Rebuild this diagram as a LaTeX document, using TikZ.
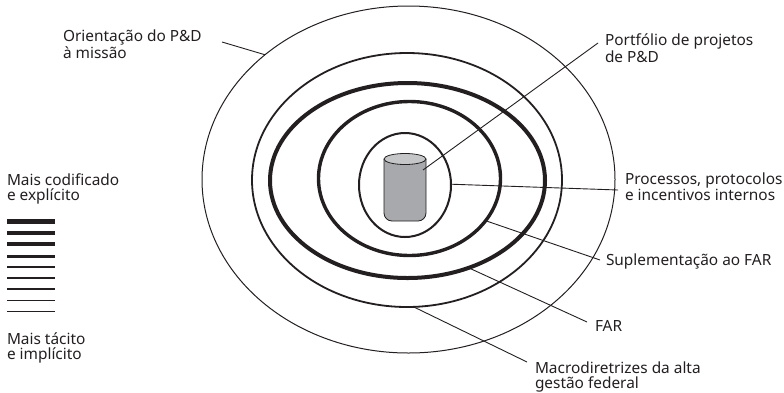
\documentclass[tikz,border=0pt]{standalone}
\usepackage{fontspec}
\setmainfont{Noto Sans}
\usetikzlibrary{shapes.geometric}
\definecolor{cylbody}{HTML}{A7A9AC}
\definecolor{cyltop}{HTML}{C4C6C8}
\definecolor{ink}{HTML}{231F20}
\begin{document}
\begin{tikzpicture}[x=1pt,y=-1pt,
  ring/.style={draw=ink,ellipse,inner sep=0pt,outer sep=0pt,fill=none},
  lbl/.style={inner sep=0pt,outer sep=0pt,align=left,anchor=base west,text=ink,font=\fontsize{15.4}{14.8}\selectfont},
  leader/.style={draw=ink,line width=0.9pt},
  leg/.style={draw=ink}]
\useasboundingbox (0,0) rectangle (784,392);
% rings
\node[ring,line width=1pt,minimum width=413pt,minimum height=347pt] (r1) at (408.5,179.5) {};
\node[ring,line width=1.8pt,minimum width=310pt,minimum height=254pt] (r2) at (407,180) {};
\node[ring,line width=4pt,minimum width=275pt,minimum height=195pt] (r3) at (407.5,180.5) {};
\node[ring,line width=3.4pt,minimum width=182pt,minimum height=154pt] (r4) at (409.5,178.5) {};
\node[ring,line width=2pt,minimum width=92pt,minimum height=104pt] (r5) at (405,185) {};
% cylinder
\filldraw[fill=cylbody,draw=ink,line width=0.8pt,rounded corners=8pt] (384,159) -- (384,221) -- (426,221) -- (426,159);
\filldraw[fill=cyltop,draw=ink,line width=0.8pt] (405,159) ellipse (21 and 5.5);
\coordinate (cyl) at (423,170);
% labels (anchored at the baseline of the last line)
\node[lbl] (orient) at (63,58) {Orientação do P\&D\\à missão};
\node[lbl] (port) at (605,62) {Portfólio de projetos\\de P\&D};
\node[lbl] (proc) at (625,200.7) {Processos, protocolos\\e incentivos internos};
\node[lbl] (supl) at (606,265) {Suplementação ao FAR};
\node[lbl] (far) at (595,331) {FAR};
\node[lbl] (macro) at (535,388) {Macrodiretrizes da alta\\gestão federal};
\node[lbl] (mcod) at (7,200.7) {Mais codificado\\e explícito};
\node[lbl] (mtac) at (7,359.5) {Mais tácito\\e implícito};
% leader end points
\coordinate (eOr) at (222,42);
\coordinate (ePo) at (598,43);
\coordinate (ePr) at (618,190);
\coordinate (eSu) at (600,260);
\coordinate (eFa) at (587,322);
\coordinate (eMa) at (527,362);
\draw[leader] (r1.139) -- (eOr);
\draw[leader] (cyl) -- (ePo);
\draw[leader] (r5.1) -- (ePr);
\draw[leader] (r4.-29) -- (eSu);
\draw[leader] (r3.-55) -- (eFa);
\draw[leader] (r2.-87) -- (eMa);
% legend lines
\foreach \yy/\ww [count=\i] in {221.7/4.7,232.7/4.0,244/3.4,256.3/2.8,266.7/2.3,278/1.8,289/1.4,300.3/1.1,311.7/0.9}{
  \coordinate (la\i) at (7,\yy);
  \coordinate (lb\i) at (55,\yy);
  \draw[leg,line width=\ww pt] (la\i) -- (lb\i);
}
\end{tikzpicture}
\end{document}
